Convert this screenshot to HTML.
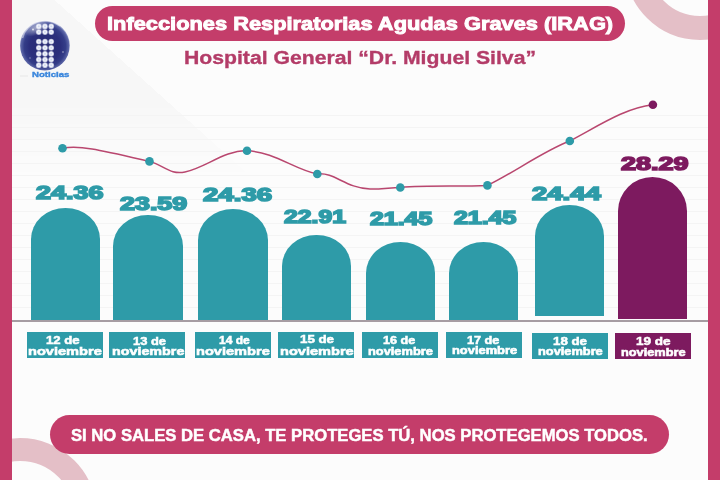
<!DOCTYPE html>
<html><head><meta charset="utf-8"><style>
html,body{margin:0;padding:0;}
body{width:720px;height:480px;overflow:hidden;position:relative;background:#fcfcfc;font-family:"Liberation Sans",sans-serif;}
.abs{position:absolute;}
.t{position:absolute;white-space:nowrap;line-height:1;transform-origin:0 0;font-weight:bold;}
</style></head><body>

<div class="abs" style="left:0;top:0;width:720px;height:480px;background:linear-gradient(222deg,transparent 53.1%,rgba(0,0,0,0.02) 53.1%);-webkit-mask-image:linear-gradient(to bottom,#000 0px,#000 100px,transparent 180px)"></div>
<div class="abs" style="left:12px;top:115px;width:696px;height:204px;background:repeating-linear-gradient(to bottom,#f4f4f4 0px,#f4f4f4 1px,transparent 1px,transparent 12px);"></div>
<svg class="abs" style="left:0;top:0" width="720" height="480"><circle cx="700" cy="-35" r="63" fill="none" stroke="#e4bfc7" stroke-width="24"/><circle cx="20" cy="515" r="65.5" fill="none" stroke="#e4bfc7" stroke-width="23"/></svg>
<div class="abs" style="left:0;top:0;width:12px;height:480px;background:#c43d6a"></div>
<div class="abs" style="left:708px;top:0;width:12px;height:480px;background:#c43d6a"></div>
<div class="abs" style="left:12px;top:320px;width:696px;height:2px;background:#a69ca2"></div>
<div class="abs" style="left:31px;top:208px;width:69px;height:112px;background:#2e9ba8;border-radius:34.5px 34.5px 0 0/31px 31px 0 0"></div>
<div class="abs" style="left:113px;top:215px;width:69.5px;height:105px;background:#2e9ba8;border-radius:34.75px 34.75px 0 0/31px 31px 0 0"></div>
<div class="abs" style="left:198px;top:208.75px;width:70px;height:111.25px;background:#2e9ba8;border-radius:35.0px 35.0px 0 0/31px 31px 0 0"></div>
<div class="abs" style="left:282px;top:234.5px;width:68.5px;height:85.5px;background:#2e9ba8;border-radius:34.25px 34.25px 0 0/31px 31px 0 0"></div>
<div class="abs" style="left:366px;top:242px;width:69px;height:78px;background:#2e9ba8;border-radius:34.5px 34.5px 0 0/31px 31px 0 0"></div>
<div class="abs" style="left:449px;top:242px;width:69px;height:78px;background:#2e9ba8;border-radius:34.5px 34.5px 0 0/31px 31px 0 0"></div>
<div class="abs" style="left:535px;top:204.8px;width:69px;height:111.19999999999999px;background:#2e9ba8;border-radius:34.5px 34.5px 0 0/31px 31px 0 0"></div>
<div class="abs" style="left:618px;top:176.7px;width:69px;height:142.8px;background:#7d1a5f;border-radius:34.5px 34.5px 0 0/34px 34px 0 0"></div>
<div class="abs" style="left:27px;top:332.2px;width:76.30px;height:25.80px;background:#2e9ba8"></div>
<div class="abs" style="left:109.4px;top:332.2px;width:75.90px;height:25.80px;background:#2e9ba8"></div>
<div class="abs" style="left:195px;top:332.2px;width:76.30px;height:25.80px;background:#2e9ba8"></div>
<div class="abs" style="left:278.4px;top:332.2px;width:75.90px;height:25.80px;background:#2e9ba8"></div>
<div class="abs" style="left:362.2px;top:332.2px;width:76.10px;height:25.80px;background:#2e9ba8"></div>
<div class="abs" style="left:446.2px;top:332.2px;width:76.10px;height:25.80px;background:#2e9ba8"></div>
<div class="abs" style="left:531.8px;top:333px;width:75.90px;height:25.60px;background:#2e9ba8"></div>
<div class="abs" style="left:615.1px;top:332.7px;width:75.60px;height:25.90px;background:#7d1a5f"></div>
<svg class="abs" style="left:0;top:0" width="720" height="480"><path d="M62.5,148.3 C80,145 100,150 149.5,161.4 C165,166 170,175 185,172 C205,168 225,150 247,150.7 C275,152 295,170 317.3,174 C335,172 345,188 370,189 C385,189 390,187.5 400.3,187.5 C430,185 460,187 487.4,185.4 C510,175 545,150 569.8,141 C600,125 625,108 652.9,104.8" fill="none" stroke="#b9476f" stroke-width="1.5"/>
<circle cx="62.5" cy="148.3" r="4.3" fill="#2e9ba8"/>
<circle cx="149.5" cy="161.4" r="4.3" fill="#2e9ba8"/>
<circle cx="247" cy="150.7" r="4.3" fill="#2e9ba8"/>
<circle cx="317.3" cy="174" r="4.3" fill="#2e9ba8"/>
<circle cx="400.3" cy="187.5" r="4.3" fill="#2e9ba8"/>
<circle cx="487.4" cy="185.4" r="4.3" fill="#2e9ba8"/>
<circle cx="569.8" cy="141" r="4.3" fill="#2e9ba8"/>
<circle cx="652.9" cy="104.8" r="4.3" fill="#7d1a5f"/>
</svg>
<div class="abs" style="left:95px;top:6.3px;width:530px;height:34.8px;border-radius:17.4px;background:#c43d6a"></div>
<div class="abs" style="left:50px;top:415px;width:619px;height:39px;border-radius:19.5px;background:#c43d6a"></div>
<svg class="abs" style="left:0;top:0" width="90" height="90"><defs><radialGradient id="sg" cx="0.5" cy="0.52" r="0.52"><stop offset="0" stop-color="#282a72"/><stop offset="0.6" stop-color="#2b2f7c"/><stop offset="0.8" stop-color="#343d88"/><stop offset="0.93" stop-color="#5d67a8"/><stop offset="1" stop-color="#c4c9e4"/></radialGradient><radialGradient id="hl" cx="0.5" cy="0.5" r="0.5"><stop offset="0" stop-color="#fff" stop-opacity="0.55"/><stop offset="1" stop-color="#fff" stop-opacity="0"/></radialGradient><radialGradient id="dg" cx="0.5" cy="0.5" r="0.5"><stop offset="0" stop-color="#c9d3f0"/><stop offset="0.55" stop-color="#f4f6fc"/><stop offset="1" stop-color="#e8ecf8" stop-opacity="0.6"/></radialGradient></defs><circle cx="44.9" cy="45.6" r="24.9" fill="url(#sg)"/><ellipse cx="36" cy="28" rx="13" ry="7" fill="url(#hl)" transform="rotate(-25 36 28)"/><path d="M22.5,38 A23.5,23.5 0 0 1 60,26" fill="none" stroke="#fff" stroke-opacity="0.45" stroke-width="1.6"/><circle cx="38.8" cy="26.4" r="2.9" fill="url(#dg)"/><circle cx="45" cy="26.4" r="2.9" fill="url(#dg)"/><circle cx="51.2" cy="26.4" r="2.9" fill="url(#dg)"/><circle cx="38.8" cy="32.1" r="2.9" fill="url(#dg)"/><circle cx="45" cy="32.1" r="2.9" fill="url(#dg)"/><circle cx="51.2" cy="32.1" r="2.9" fill="url(#dg)"/><circle cx="38.8" cy="41.6" r="2.9" fill="url(#dg)"/><circle cx="45" cy="41.6" r="2.9" fill="url(#dg)"/><circle cx="51.2" cy="41.6" r="2.9" fill="url(#dg)"/><circle cx="38.8" cy="47.8" r="2.9" fill="url(#dg)"/><circle cx="45" cy="47.8" r="2.9" fill="url(#dg)"/><circle cx="51.2" cy="47.8" r="2.9" fill="url(#dg)"/><circle cx="38.8" cy="53.8" r="2.9" fill="url(#dg)"/><circle cx="45" cy="53.8" r="2.9" fill="url(#dg)"/><circle cx="51.2" cy="53.8" r="2.9" fill="url(#dg)"/><circle cx="38.8" cy="59.6" r="2.9" fill="url(#dg)"/><circle cx="45" cy="59.6" r="2.9" fill="url(#dg)"/><circle cx="51.2" cy="59.6" r="2.9" fill="url(#dg)"/><circle cx="38.8" cy="65.2" r="2.9" fill="url(#dg)"/><circle cx="45" cy="65.2" r="2.9" fill="url(#dg)"/><circle cx="51.2" cy="65.2" r="2.9" fill="url(#dg)"/><circle cx="33" cy="29.5" r="0.9" fill="#fff" fill-opacity="0.8"/><circle cx="63" cy="52" r="0.8" fill="#fff" fill-opacity="0.6"/><circle cx="30" cy="58" r="0.7" fill="#fff" fill-opacity="0.5"/></svg>
<div class="abs" style="left:20px;top:74.5px;width:8px;height:2.5px;background:#efefef"></div>
<div class="t" style="left:106.90px;top:13.90px;font-size:19.12px;color:#fff;transform:scaleX(1.1420);-webkit-text-stroke:0.95px #fff">Infecciones Respiratorias Agudas Graves (IRAG)</div>
<div class="t" style="left:183.90px;top:48.20px;font-size:19.20px;color:#b33c68;transform:scaleX(1.1041);-webkit-text-stroke:0.35px #b33c68">Hospital General “Dr. Miguel Silva”</div>
<div class="t" style="left:71.08px;top:426.91px;font-size:17.21px;color:#fff;transform:scaleX(0.9683);-webkit-text-stroke:0.5px #fff">SI NO SALES DE CASA, TE PROTEGES TÚ, NOS PROTEGEMOS TODOS.</div>
<div class="t" style="left:35.80px;top:183.90px;font-size:18.60px;color:#2e9ba8;transform:scaleX(1.4516);-webkit-text-stroke:1.6px #2e9ba8">24.36</div>
<div class="t" style="left:120.00px;top:195.39px;font-size:18.60px;color:#2e9ba8;transform:scaleX(1.4451);-webkit-text-stroke:1.6px #2e9ba8">23.59</div>
<div class="t" style="left:203.00px;top:186.23px;font-size:18.60px;color:#2e9ba8;transform:scaleX(1.4847);-webkit-text-stroke:1.6px #2e9ba8">24.36</div>
<div class="t" style="left:283.90px;top:208.01px;font-size:18.60px;color:#2e9ba8;transform:scaleX(1.3313);-webkit-text-stroke:1.6px #2e9ba8">22.91</div>
<div class="t" style="left:369.70px;top:210.01px;font-size:18.60px;color:#2e9ba8;transform:scaleX(1.3389);-webkit-text-stroke:1.6px #2e9ba8">21.45</div>
<div class="t" style="left:453.60px;top:208.85px;font-size:18.60px;color:#2e9ba8;transform:scaleX(1.3402);-webkit-text-stroke:1.6px #2e9ba8">21.45</div>
<div class="t" style="left:532.20px;top:184.89px;font-size:18.60px;color:#2e9ba8;transform:scaleX(1.4769);-webkit-text-stroke:1.6px #2e9ba8">24.44</div>
<div class="t" style="left:621.10px;top:154.80px;font-size:18.60px;color:#7d1a5f;transform:scaleX(1.4480);-webkit-text-stroke:1.6px #7d1a5f">28.29</div>
<div class="t" style="left:45.60px;top:334.54px;font-size:10.60px;color:#fff;transform:scaleX(1.2407);-webkit-text-stroke:0.5px #fff">12 de</div>
<div class="t" style="left:28.13px;top:346.28px;font-size:11.80px;color:#fff;transform:scaleX(1.2371);-webkit-text-stroke:0.6px #fff">noviembre</div>
<div class="t" style="left:133.10px;top:335.98px;font-size:10.60px;color:#fff;transform:scaleX(1.2148);-webkit-text-stroke:0.5px #fff">13 de</div>
<div class="t" style="left:111.62px;top:346.34px;font-size:11.80px;color:#fff;transform:scaleX(1.2124);-webkit-text-stroke:0.6px #fff">noviembre</div>
<div class="t" style="left:219.10px;top:334.91px;font-size:10.60px;color:#fff;transform:scaleX(1.1333);-webkit-text-stroke:0.5px #fff">14 de</div>
<div class="t" style="left:196.13px;top:345.77px;font-size:11.80px;color:#fff;transform:scaleX(1.2371);-webkit-text-stroke:0.6px #fff">noviembre</div>
<div class="t" style="left:299.90px;top:333.53px;font-size:10.60px;color:#fff;transform:scaleX(1.2556);-webkit-text-stroke:0.5px #fff">15 de</div>
<div class="t" style="left:280.30px;top:345.77px;font-size:11.80px;color:#fff;transform:scaleX(1.2349);-webkit-text-stroke:0.6px #fff">noviembre</div>
<div class="t" style="left:383.30px;top:334.52px;font-size:10.60px;color:#fff;transform:scaleX(1.1884);-webkit-text-stroke:0.5px #fff">16 de</div>
<div class="t" style="left:368.00px;top:345.64px;font-size:10.80px;color:#fff;transform:scaleX(1.1873);-webkit-text-stroke:0.6px #fff">noviembre</div>
<div class="t" style="left:467.30px;top:334.82px;font-size:10.60px;color:#fff;transform:scaleX(1.1963);-webkit-text-stroke:0.5px #fff">17 de</div>
<div class="t" style="left:452.30px;top:344.62px;font-size:10.80px;color:#fff;transform:scaleX(1.1927);-webkit-text-stroke:0.6px #fff">noviembre</div>
<div class="t" style="left:552.90px;top:335.98px;font-size:10.60px;color:#fff;transform:scaleX(1.2556);-webkit-text-stroke:0.5px #fff">18 de</div>
<div class="t" style="left:537.70px;top:345.70px;font-size:10.80px;color:#fff;transform:scaleX(1.1855);-webkit-text-stroke:0.6px #fff">noviembre</div>
<div class="t" style="left:635.90px;top:335.94px;font-size:10.60px;color:#fff;transform:scaleX(1.2741);-webkit-text-stroke:0.5px #fff">19 de</div>
<div class="t" style="left:620.90px;top:346.60px;font-size:10.80px;color:#fff;transform:scaleX(1.1818);-webkit-text-stroke:0.6px #fff">noviembre</div>
<div class="t" style="left:31.70px;top:70.95px;font-size:7.20px;color:#3a86dc;transform:scaleX(1.3393);-webkit-text-stroke:0.35px #3a86dc">Noticias</div>
</body></html>
